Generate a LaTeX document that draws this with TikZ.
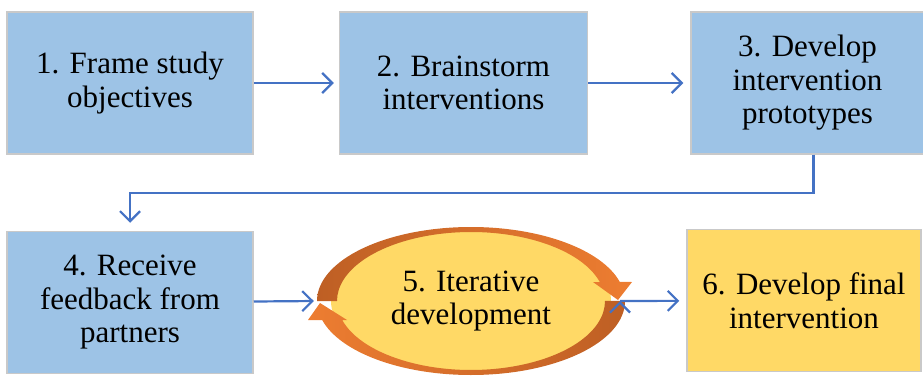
\documentclass[tikz,border=0pt]{standalone}
\usepackage{fontspec}
\setmainfont{Liberation Serif}
\usetikzlibrary{arrows.meta,positioning,shapes.geometric}

\definecolor{stageblue}{HTML}{9DC3E6}
\definecolor{stageyellow}{HTML}{FFD966}
\definecolor{edgegray}{HTML}{C9C9C9}
\definecolor{flowblue}{HTML}{4472C4}
\definecolor{ringdark}{HTML}{BE5F24}
\definecolor{ringlight}{HTML}{ED7D31}

\begin{document}
\begin{tikzpicture}[x=1pt,y=1pt,
                    font=\fontsize{31}{33.5}\selectfont,
                    flow/.style={draw=flowblue,line width=2.2pt,
                      -{Straight Barb[length=10pt,width=20pt,line width=2.2pt]}}]
          \tikzstyle{stage}=[draw=edgegray,line width=1.5pt,fill=stageblue,
                             align=center,inner sep=0pt,minimum height=142pt]

          \useasboundingbox (0,0) rectangle (923,378);

          \node[stage,minimum width=246pt] (A) at (130,295) {1. Frame study\\objectives};
          \node[stage,minimum width=248pt] (B) [right=85pt of A] {2. Brainstorm\\interventions};
          \node[stage,minimum width=233pt] (C) [right=102pt of B] {3. Develop\\intervention\\prototypes};
          \node[stage,minimum width=246pt] (D) [below=76pt of A] {4. Receive\\feedback from\\partners};
          \node[ellipse,minimum width=308pt,minimum height=148pt,inner sep=0pt] (E) at (471,77) {};
          \node[stage,fill=stageyellow,minimum width=234pt] (F) at (804,77.5) {6. Develop final\\intervention};

          % iterative cycle
          \fill[stageyellow] (E.center) ellipse [x radius=140pt,y radius=71pt];
          \path[left color=ringdark,right color=ringlight]
            (317,77) arc [start angle=180,end angle=14.9,x radius=154pt,y radius=74pt]
            -- (632,96) -- (618,78) -- (593,96) -- (599.8,96)
            arc [start angle=16,end angle=180,x radius=134pt,y radius=69pt] -- cycle;
          \path[left color=ringlight,right color=ringdark]
            (625,77) arc [start angle=0,end angle=-165.1,x radius=154pt,y radius=74pt]
            -- (308,58) -- (320,75) -- (347,58) -- (342.2,58)
            arc [start angle=196,end angle=360,x radius=134pt,y radius=69pt] -- cycle;
          \node[align=center] at (E.center) {5. Iterative\\development};

          \path[flow] (A) edge [shorten >=5pt] (B)
                      (B) edge [shorten >=7pt] (C)
                      (D) edge [shorten >=3pt] (E.west)
                      (620,77) edge [shorten >=7pt] (F);
          \draw[flow,shorten >=8pt] ([xshift=6pt]C.south) -- ++(0,-38) -| (D.north);

        \end{tikzpicture}
\end{document}
